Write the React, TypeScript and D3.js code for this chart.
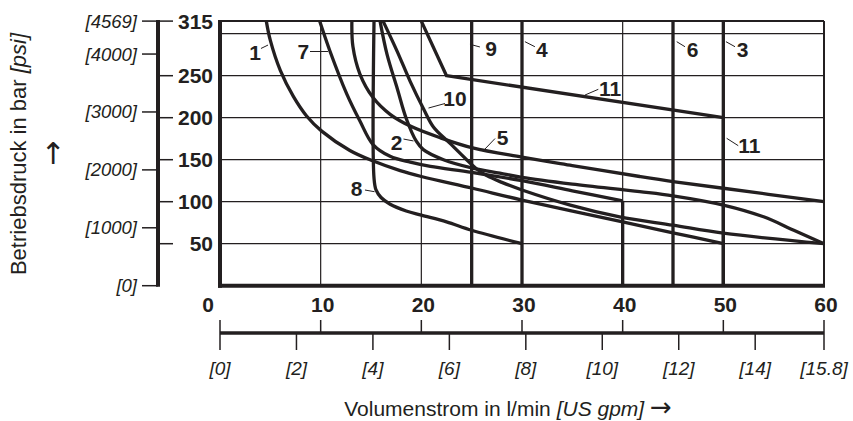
import React from "react";
import * as d3 from "d3";

// ---------- data ----------
const barTicks = [50, 100, 150, 200, 250, 315];
const barGrid = [50, 100, 150, 200, 250, 300];
const psiTicks = [0, 1000, 2000, 3000, 4000, 4569];
const flowTicks = [0, 10, 20, 30, 40, 50, 60];
const flowGrid = [10, 20, 30, 40, 50];
const gpmTicks = [0, 2, 4, 6, 8, 10, 12, 14, 15.8];

// curves: [l/min, bar]
const curve1: [number, number][] = [[4.6, 315], [5.0, 292], [6.0, 256], [7.3, 225], [8.6, 202], [10.1, 184], [12.9, 161], [15.1, 149], [17.9, 137], [20, 130], [25.1, 116], [30, 102], [40, 76], [45, 63], [50, 50]];
const curve7: [number, number][] = [[9.9, 315], [10.9, 280], [12.6, 228], [13.9, 196], [15.2, 168], [16.9, 154], [18.9, 147], [20.9, 142], [25, 135], [30, 125], [35, 113], [40, 101]];
const curve5: [number, number][] = [[13.1, 315], [13.2, 285], [13.9, 252], [15.2, 224], [16.9, 204], [18.9, 190], [21.9, 176], [25.1, 164], [30, 153], [35, 143], [41.7, 130], [45, 124], [50, 116], [60, 100]];
const curve2: [number, number][] = [[15.9, 315], [16.6, 275], [17.6, 235], [18.5, 199], [19.5, 172], [20.2, 162], [22.2, 150], [25.1, 140], [27.8, 134], [30, 129], [35, 121], [41.7, 112], [45, 107], [50, 96], [54, 82], [57, 66], [60, 50]];
const curve10: [number, number][] = [[16.2, 315], [17.6, 279], [18.9, 243], [20.2, 211], [21.2, 189], [22.8, 170], [24.5, 150], [25.5, 139], [26.5, 131], [28, 123], [30, 114], [34.8, 96], [39.7, 82], [45, 72], [50, 62.5], [60, 50]];
const curve8: [number, number][] = [[15.3, 315], [15.3, 128], [15.5, 114], [16.0, 105], [16.9, 97], [18.5, 89], [20, 84], [22.5, 76], [25, 66], [30, 50]];
const curve11: [number, number][] = [[20, 315], [22.5, 250], [50, 200], [50, 0]];

// vertical limit lines: [l/min, from bar, to bar]
const verticals: [number, number, number][] = [[25, 0, 315], [30, 0, 315], [45, 0, 315], [50, 0, 315], [40, 0, 101]];

// curve labels: text, label pos, leader start, leader end (l/min, bar)
const labelText = ["1", "7", "2", "8", "10", "5", "9", "4", "6", "3", "11", "11"];
const labelPos: [number, number][] = [[3.48, 278.2], [8.27, 279.4], [17.55, 171], [13.58, 116.3], [23.34, 222.3], [28.08, 177], [26.92, 282.6], [31.96, 280.6], [46.95, 280.6], [51.92, 280.6], [38.74, 235], [52.58, 167.5]];
const leaderA: [number, number][] = [[4.07, 282.4], [8.94, 278.8], [18.23, 174.6], [14.4, 113.9], [22.35, 216.9], [27.32, 175.2], [24.83, 287.4], [30.29, 290.5], [45.37, 290.5], [50.26, 290.5], [36.26, 227], [50.33, 175.5]];
const leaderB: [number, number][] = [[4.77, 286.5], [10.73, 278.8], [19.22, 172.3], [15.35, 111.9], [20.71, 211.5], [26.32, 162.7], [25.82, 284.2], [31.28, 284.5], [46.19, 284.5], [51.16, 284.5], [37.58, 233.8], [51.48, 166.7]];

// ---------- chart ----------
const W = 853, H = 421;
const INK = "#231f20";
const FONT = "'Liberation Sans', Arial, Helvetica, sans-serif";
const ARROW_FONT = "'DejaVu Sans', sans-serif";

export default function App() {
  const x = d3.scaleLinear().domain([0, 60]).range([220, 824]);
  const y = d3.scaleLinear().domain([0, 315]).range([285.7, 21.1]);
  const yPsi = d3.scaleLinear().domain([0, 4569]).range([285.7, 21.1]);
  const xGpm = d3.scaleLinear().domain([0, 15.8]).range([220, 824]);

  const smooth = d3.line<[number, number]>().x(d => x(d[0])).y(d => y(d[1])).curve(d3.curveCatmullRom.alpha(0.5));
  const straight = d3.line<[number, number]>().x(d => x(d[0])).y(d => y(d[1]));

  const smoothCurves = [curve1, curve7, curve5, curve2, curve10, curve8];

  const axisX = 158;
  const axisY2 = 333;

  return (
    <svg width={W} height={H} style={{ position: "absolute", left: 0, top: 0, background: "#fff" }} fontFamily={FONT}>
      <rect width={W} height={H} fill="#fff" />
      {/* grid */}
      {barGrid.map(v => (
        <line key={"gy" + v} x1={x(0)} x2={x(60)} y1={y(v)} y2={y(v)} stroke={INK} strokeWidth={1.2} />
      ))}
      {flowGrid.map(v => (
        <line key={"gx" + v} x1={x(v)} x2={x(v)} y1={y(0)} y2={y(315)} stroke={INK} strokeWidth={1.2} />
      ))}
      {/* frame: top & right thin */}
      <line x1={x(0)} x2={x(60)} y1={y(315)} y2={y(315)} stroke={INK} strokeWidth={2} />
      <line x1={x(60)} x2={x(60)} y1={y(0)} y2={y(315)} stroke={INK} strokeWidth={2} />

      {/* vertical limits */}
      {verticals.map((v, i) => (
        <line key={"v" + i} x1={x(v[0])} x2={x(v[0])} y1={y(v[1])} y2={y(v[2])} stroke={INK} strokeWidth={3.3} />
      ))}
      {/* curves */}
      {smoothCurves.map((c, i) => (
        <path key={"c" + i} d={smooth(c) || ""} fill="none" stroke={INK} strokeWidth={3.3} strokeLinejoin="round" />
      ))}
      <path d={straight(curve11) || ""} fill="none" stroke={INK} strokeWidth={3.3} strokeLinejoin="round" />

      {/* frame: left & bottom thick */}
      <line x1={x(0)} x2={x(0)} y1={y(0) + 2} y2={y(315) - 1} stroke={INK} strokeWidth={4} />
      <line x1={x(0) - 2} x2={x(60) + 1} y1={y(0)} y2={y(0)} stroke={INK} strokeWidth={4} />

      {/* labels */}
      {labelText.map((t, i) => (
        <g key={"l" + i}>
          <line x1={x(leaderA[i][0])} y1={y(leaderA[i][1])} x2={x(leaderB[i][0])} y2={y(leaderB[i][1])} stroke={INK} strokeWidth={1} />
          <text x={x(labelPos[i][0])} y={y(labelPos[i][1])} textAnchor="middle" dominantBaseline="central" fontSize={21} fontWeight="bold" fill={INK}>{t}</text>
        </g>
      ))}

      {/* left axis */}
      <line x1={axisX} x2={axisX} y1={y(315) - 1} y2={y(0) + 1} stroke={INK} strokeWidth={4} />
      {barTicks.map(v => (
        <g key={"bt" + v}>
          <line x1={axisX} x2={axisX + 15} y1={y(v)} y2={y(v)} stroke={INK} strokeWidth={1.5} />
          <text x={213} y={y(v)} textAnchor="end" dominantBaseline="central" fontSize={21} fontWeight="bold" fill={INK}>{v}</text>
        </g>
      ))}
      {psiTicks.map(v => (
        <g key={"pt" + v}>
          <line x1={axisX - 16} x2={axisX} y1={yPsi(v)} y2={yPsi(v)} stroke={INK} strokeWidth={1.5} />
          <text x={137} y={yPsi(v)} textAnchor="end" dominantBaseline="central" fontSize={18.5} fontStyle="italic" fill={INK}>[{v}]</text>
        </g>
      ))}
      <text transform="translate(18,154) rotate(-90)" textAnchor="middle" dominantBaseline="central" fontSize={22} fill={INK}>
        Betriebsdruck in bar <tspan fontStyle="italic">[psi]</tspan>
      </text>
      <text x={53} y={153} textAnchor="middle" dominantBaseline="central" fontSize={30} fill={INK} fontFamily={ARROW_FONT}>↑</text>

      {/* bottom: l/min labels */}
      {flowTicks.map(v => (
        <text key={"ft" + v} x={v === 0 ? x(v) - 6 : x(v) + 2} y={312} textAnchor={v === 0 ? "end" : "middle"} fontSize={21} fontWeight="bold" fill={INK}>{v}</text>
      ))}
      {/* second axis */}
      <line x1={xGpm(0)} x2={xGpm(15.8)} y1={axisY2} y2={axisY2} stroke={INK} strokeWidth={3.3} />
      {flowTicks.map(v => (
        <line key={"ftk" + v} x1={x(v)} x2={x(v)} y1={axisY2 - 13} y2={axisY2} stroke={INK} strokeWidth={1.5} />
      ))}
      {gpmTicks.map(v => (
        <g key={"gt" + v}>
          <line x1={xGpm(v)} x2={xGpm(v)} y1={axisY2} y2={axisY2 + 17} stroke={INK} strokeWidth={1.5} />
          <text x={xGpm(v)} y={375} textAnchor="middle" fontSize={19} fontStyle="italic" fill={INK}>[{v}]</text>
        </g>
      ))}
      <text x={508} y={416} textAnchor="middle" fontSize={21} fill={INK}>
        Volumenstrom in l/min <tspan fontStyle="italic">[US gpm]</tspan> <tspan fontFamily={ARROW_FONT} fontSize={26}>→</tspan>
      </text>
    </svg>
  );
}
